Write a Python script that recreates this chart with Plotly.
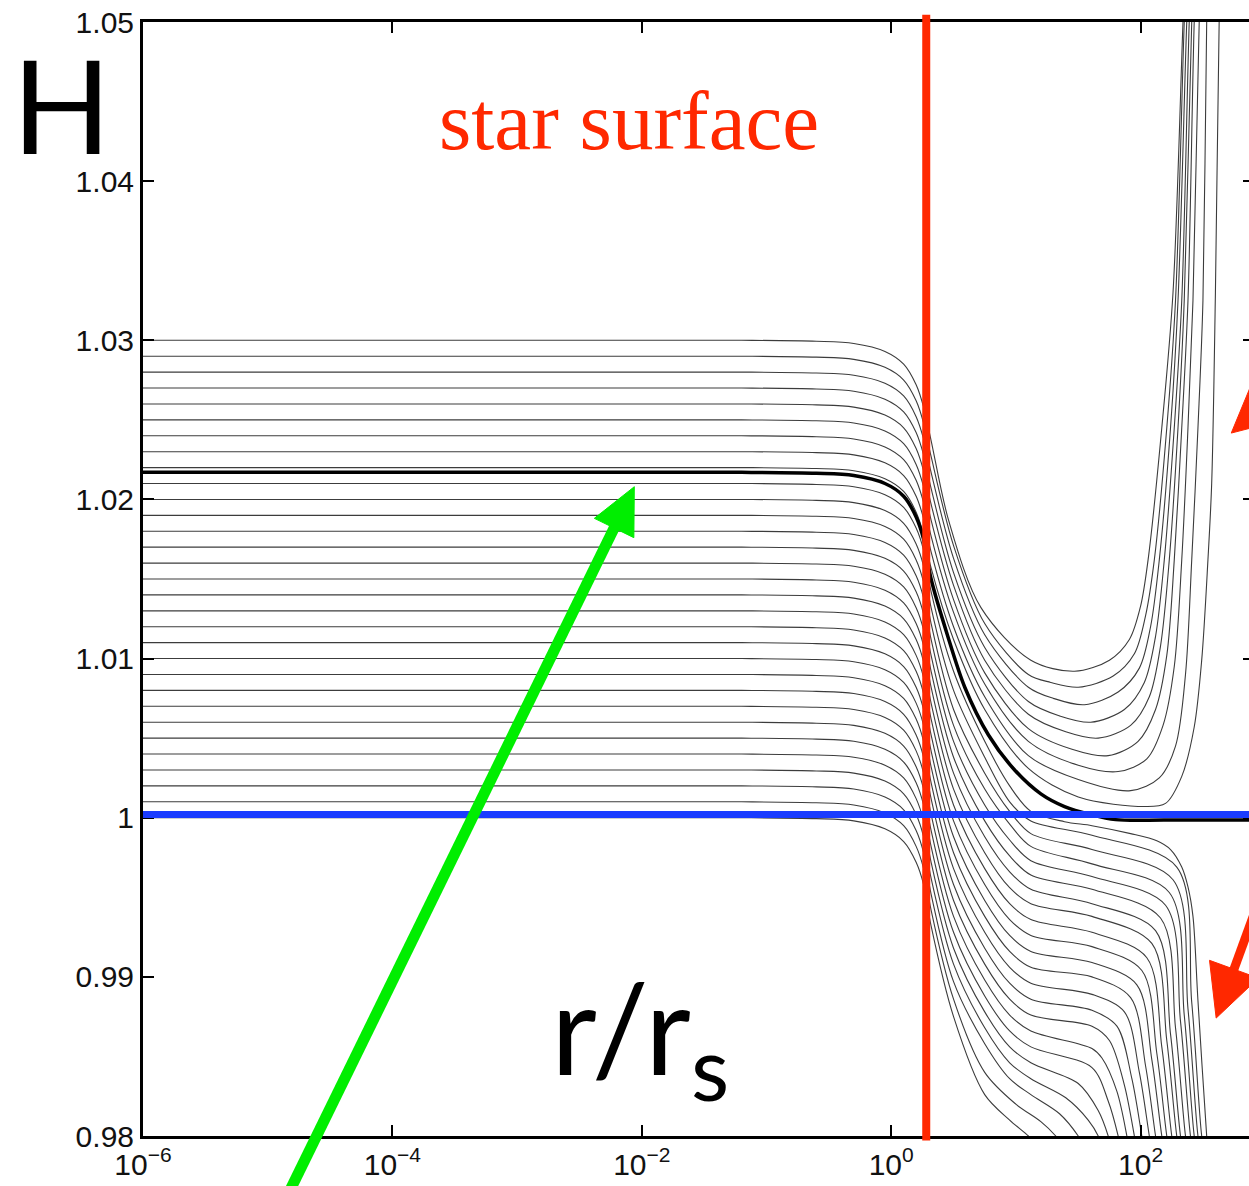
import math
import plotly.graph_objects as go

# ---------------------------------------------------------------------------
# H(r) profiles, x = log10(r / r_s)
# ---------------------------------------------------------------------------

# Central values H(0) of the thin curves
LOWER_H0 = [1.000, 1.001, 1.002, 1.003, 1.004, 1.005, 1.006, 1.007, 1.008, 1.009, 1.010,
            1.011, 1.012, 1.013, 1.014, 1.015, 1.016, 1.017, 1.018, 1.019, 1.020, 1.021]
UPPER_H0 = [1.022, 1.023, 1.024, 1.025, 1.026, 1.027, 1.028, 1.029, 1.030]
CRITICAL_H0 = 1.0217

# Interior: the curves stay flat, then fall off just before the surface
INTERIOR_LOGR = [-6.0, -1.2, -0.6, -0.3, -0.05, 0.10, 0.20, 0.26]
INTERIOR_DROP = [0.0, 0.0, 0.00006, 0.0002, 0.0007, 0.0015, 0.0028, 0.0042]

# Exterior of the curves that dive below H = 1
LOWER_OUT_LOGR = [
    [0.32, 0.5, 0.75, 0.95, 1.10, 1.16],
    [0.32, 0.5, 0.75, 1.0, 1.2, 1.32, 1.38],
    [0.32, 0.5, 0.75, 0.95, 1.12, 1.35, 1.50, 1.55],
    [0.32, 0.5, 0.75, 0.95, 1.12, 1.40, 1.58, 1.66, 1.70],
    [0.32, 0.5, 0.75, 0.95, 1.12, 1.50, 1.66, 1.74, 1.77],
    [0.32, 0.5, 0.75, 0.95, 1.12, 1.61, 1.74, 1.82, 1.85],
    [0.32, 0.5, 0.75, 0.95, 1.12, 1.61, 1.69, 1.81, 1.89, 1.92],
    [0.32, 0.5, 0.75, 0.95, 1.12, 1.61, 1.75, 1.87, 1.95, 1.98],
    [0.32, 0.5, 0.75, 0.95, 1.12, 1.61, 1.81, 1.93, 2.01, 2.04],
    [0.32, 0.5, 0.75, 0.95, 1.12, 1.61, 1.87, 1.99, 2.07, 2.10],
    [0.32, 0.5, 0.75, 0.95, 1.12, 1.61, 1.92, 2.04, 2.12, 2.15],
    [0.32, 0.5, 0.75, 0.95, 1.12, 1.61, 1.97, 2.09, 2.17, 2.20],
    [0.32, 0.5, 0.75, 0.95, 1.12, 1.61, 2.01, 2.13, 2.21, 2.24],
    [0.32, 0.5, 0.75, 0.95, 1.12, 1.61, 2.05, 2.17, 2.25, 2.28],
    [0.32, 0.5, 0.75, 0.95, 1.12, 1.61, 2.09, 2.21, 2.29, 2.32],
    [0.32, 0.5, 0.75, 0.95, 1.12, 1.61, 2.12, 2.24, 2.32, 2.35],
    [0.32, 0.5, 0.75, 0.95, 1.12, 1.61, 2.16, 2.28, 2.36, 2.39],
    [0.32, 0.5, 0.75, 0.95, 1.12, 1.61, 2.20, 2.32, 2.40, 2.43],
    [0.32, 0.5, 0.75, 0.95, 1.12, 1.61, 2.23, 2.35, 2.43, 2.46],
    [0.32, 0.5, 0.75, 0.95, 1.12, 1.61, 2.26, 2.38, 2.46, 2.49],
    [0.32, 0.5, 0.75, 0.95, 1.12, 1.61, 2.29, 2.41, 2.49, 2.52],
    [0.32, 0.5, 0.75, 0.95, 1.12, 1.39, 1.61, 1.92, 2.13, 2.24, 2.33, 2.38, 2.42, 2.46, 2.53,
     2.56],
]
LOWER_OUT_H = [
    [0.9932, 0.9875, 0.9826, 0.9810, 0.9800, 0.9795],
    [0.9942, 0.9886, 0.9840, 0.9820, 0.9809, 0.9800, 0.9794],
    [0.9952, 0.9897, 0.9858, 0.9836, 0.9826, 0.9814, 0.9800, 0.9793],
    [0.9962, 0.9908, 0.9868, 0.9846, 0.9836, 0.9824, 0.9810, 0.9800, 0.9790],
    [0.9972, 0.9918, 0.9878, 0.9856, 0.9846, 0.9833, 0.9816, 0.9800, 0.9790],
    [0.9982, 0.9928, 0.9888, 0.9866, 0.9856, 0.9843, 0.9822, 0.9800, 0.9788],
    [0.9992, 0.9938, 0.9898, 0.9876, 0.9866, 0.9855, 0.9849, 0.9828, 0.9800, 0.9786],
    [1.0002, 0.9948, 0.9908, 0.9886, 0.9876, 0.9869, 0.9860, 0.9832, 0.9800, 0.9786],
    [1.0012, 0.9958, 0.9918, 0.9896, 0.9886, 0.9879, 0.9869, 0.9836, 0.9800, 0.9786],
    [1.0022, 0.9968, 0.9928, 0.9906, 0.9896, 0.9889, 0.9878, 0.9840, 0.9800, 0.9786],
    [1.0032, 0.9978, 0.9938, 0.9916, 0.9906, 0.9900, 0.9887, 0.9844, 0.9800, 0.9786],
    [1.0042, 0.9988, 0.9948, 0.9926, 0.9916, 0.9909, 0.9895, 0.9848, 0.9800, 0.9786],
    [1.0052, 0.9998, 0.9958, 0.9936, 0.9926, 0.9919, 0.9904, 0.9852, 0.9800, 0.9786],
    [1.0062, 1.0008, 0.9968, 0.9946, 0.9936, 0.9928, 0.9912, 0.9856, 0.9800, 0.9786],
    [1.0072, 1.0018, 0.9978, 0.9956, 0.9946, 0.9938, 0.9921, 0.9860, 0.9800, 0.9786],
    [1.0082, 1.0028, 0.9988, 0.9966, 0.9955, 0.9946, 0.9929, 0.9864, 0.9800, 0.9786],
    [1.0092, 1.0038, 0.9998, 0.9976, 0.9964, 0.9955, 0.9937, 0.9868, 0.9800, 0.9786],
    [1.0102, 1.0048, 1.0008, 0.9986, 0.9973, 0.9963, 0.9945, 0.9872, 0.9800, 0.9786],
    [1.0112, 1.0058, 1.0018, 0.9996, 0.9982, 0.9971, 0.9953, 0.9876, 0.9800, 0.9786],
    [1.0122, 1.0068, 1.0028, 1.0004, 0.9990, 0.9980, 0.9961, 0.9880, 0.9800, 0.9786],
    [1.0132, 1.0080, 1.0038, 1.0010, 0.9998, 0.9989, 0.9969, 0.9884, 0.9800, 0.9786],
    [1.0142, 1.0092, 1.0048, 1.0020, 1.0004, 0.99975, 0.9995, 0.9990, 0.99855, 0.9980, 0.9969,
     0.99565, 0.9938, 0.9885, 0.9800, 0.9770],
]

# Exterior of the curves that turn back up (U shapes)
UPPER_OUT_LOGR = [
    [0.32, 0.5, 0.75, 1.1, 1.5, 2.04, 2.20, 2.33, 2.43, 2.49, 2.54, 2.57, 2.60, 2.63, 2.65],
    [0.32, 0.5, 0.75, 1.1, 1.5, 1.92, 2.15, 2.28, 2.36, 2.41, 2.46, 2.50, 2.53, 2.55],
    [0.32, 0.5, 0.75, 1.1, 1.5, 1.82, 2.05, 2.18, 2.27, 2.33, 2.38, 2.42, 2.47, 2.50],
    [0.32, 0.5, 0.75, 1.1, 1.45, 1.74, 1.98, 2.12, 2.21, 2.27, 2.33, 2.38, 2.43, 2.46],
    [0.32, 0.5, 0.75, 1.1, 1.40, 1.66, 1.92, 2.07, 2.16, 2.23, 2.30, 2.35, 2.41, 2.44],
    [0.32, 0.5, 0.75, 1.1, 1.35, 1.60, 1.87, 2.03, 2.12, 2.19, 2.27, 2.33, 2.39, 2.42],
    [0.32, 0.5, 0.75, 1.1, 1.30, 1.55, 1.82, 1.99, 2.08, 2.15, 2.24, 2.30, 2.37, 2.40],
    [0.32, 0.5, 0.75, 1.1, 1.28, 1.50, 1.78, 1.95, 2.04, 2.11, 2.21, 2.28, 2.35, 2.38],
    [0.32, 0.46, 0.72, 1.12, 1.47, 1.75, 1.91, 2.00, 2.06, 2.17, 2.26, 2.34, 2.37],
]
UPPER_OUT_H = [
    [1.0157, 1.0112, 1.0068, 1.0031, 1.0013, 1.0007, 1.0009, 1.0026, 1.0057, 1.0099, 1.0162,
     1.0210, 1.0330, 1.0500, 1.0560],
    [1.0167, 1.0120, 1.0076, 1.0039, 1.0024, 1.0017, 1.0025, 1.0045, 1.0090, 1.0162, 1.0245,
     1.0325, 1.0500, 1.0560],
    [1.0177, 1.0129, 1.0084, 1.0048, 1.0033, 1.0029, 1.0037, 1.0058, 1.0095, 1.0162, 1.0245,
     1.0325, 1.0500, 1.0560],
    [1.0187, 1.0137, 1.0091, 1.0056, 1.0043, 1.0039, 1.0048, 1.0068, 1.0102, 1.0162, 1.0245,
     1.0325, 1.0500, 1.0560],
    [1.0197, 1.0146, 1.0099, 1.0065, 1.0054, 1.0050, 1.0058, 1.0076, 1.0108, 1.0162, 1.0245,
     1.0325, 1.0500, 1.0560],
    [1.0207, 1.0154, 1.0107, 1.0073, 1.0064, 1.0060, 1.0068, 1.0085, 1.0114, 1.0162, 1.0245,
     1.0325, 1.0500, 1.0560],
    [1.0217, 1.0163, 1.0115, 1.0082, 1.0075, 1.0071, 1.0079, 1.0094, 1.0120, 1.0162, 1.0245,
     1.0325, 1.0500, 1.0560],
    [1.0227, 1.0171, 1.0122, 1.0090, 1.0085, 1.0082, 1.0089, 1.0103, 1.0127, 1.0162, 1.0245,
     1.0325, 1.0500, 1.0560],
    [1.0237, 1.0187, 1.0132, 1.0099, 1.0092, 1.0099, 1.0112, 1.0133, 1.0162, 1.0245, 1.0330,
     1.0500, 1.0560],
]

# Critical (thick) solution that settles onto H = 1
CRITICAL_OUT_LOGR = [0.32, 0.45, 0.59, 0.78, 0.99, 1.2, 1.39, 1.6, 1.8, 2.2, 2.87]
CRITICAL_OUT_H = [1.0150, 1.0115, 1.0082, 1.0052, 1.0030, 1.0015, 1.0007, 1.0002, 0.99988,
                  0.99985, 0.99985]

# Markers on the plot
SURFACE_LOGR = 0.281
UNIT_H = 1.0002
GREEN_TIP = (-2.06, 1.0208)
RED_TIP_UP = (2.727, 1.02417)
RED_TIP_DOWN = (2.606, 0.98741)

X_TICKS = [1e-6, 1e-4, 1e-2, 1e0, 1e2]
X_TICK_TEXT = ["10<sup>\u22126</sup>", "10<sup>\u22124</sup>", "10<sup>\u22122</sup>",
               "10<sup>0</sup>", "10<sup>2</sup>"]
Y_TICKS = [0.98, 0.99, 1.00, 1.01, 1.02, 1.03, 1.04, 1.05]
Y_TICK_TEXT = ["0.98", "0.99", "1", "1.01", "1.02", "1.03", "1.04", "1.05"]

RED = "#ff2800"
BLUE = "#1a3cff"
GREEN = "#00ee00"

W, H_PX = 1249, 1186
M_L, M_R, M_T, M_B = 143, 0, 22, 50
PLOT_W = W - M_L - M_R
PLOT_H = H_PX - M_T - M_B
X_RANGE = [-6.0, 2.8693]
Y_RANGE = [0.98, 1.05]


def profile(h0, out_logr, out_h):
    logr = INTERIOR_LOGR + out_logr
    hv = [h0 - d for d in INTERIOR_DROP] + out_h
    return [10 ** u for u in logr], hv


def data_to_px(u, h):
    px = M_L + (u - X_RANGE[0]) / (X_RANGE[1] - X_RANGE[0]) * PLOT_W
    py = M_T + (Y_RANGE[1] - h) / (Y_RANGE[1] - Y_RANGE[0]) * PLOT_H
    return px, py


def px_to_paper(px, py):
    return (px - M_L) / PLOT_W, (H_PX - M_B - py) / PLOT_H


def arrow_shapes(tip, back, shaft_len, head_len, head_half, width, color):
    """Filled triangular head at `tip` plus a straight shaft running along `back`."""
    tx, ty = data_to_px(*tip)
    n = math.hypot(*back)
    dx, dy = back[0] / n, back[1] / n
    bx, by = tx + dx * head_len, ty + dy * head_len
    nx, ny = -dy, dx
    corners = [(tx, ty), (bx + nx * head_half, by + ny * head_half),
               (bx - nx * head_half, by - ny * head_half)]
    pc = [px_to_paper(cx, cy) for cx, cy in corners]
    path = "M {:.5f} {:.5f} L {:.5f} {:.5f} L {:.5f} {:.5f} Z".format(
        pc[0][0], pc[0][1], pc[1][0], pc[1][1], pc[2][0], pc[2][1])
    s0 = px_to_paper(bx - dx * 3, by - dy * 3)
    s1 = px_to_paper(tx + dx * shaft_len, ty + dy * shaft_len)
    return [
        dict(type="line", xref="paper", yref="paper", x0=s0[0], y0=s0[1], x1=s1[0], y1=s1[1],
             line=dict(color=color, width=width), layer="above"),
        dict(type="path", xref="paper", yref="paper", path=path, fillcolor=color,
             line=dict(color=color, width=1), layer="above"),
    ]


fig = go.Figure()

thin = dict(color="#3c3c3c", width=1.1, shape="spline", smoothing=0.9)

for h0, lr, hv in zip(LOWER_H0, LOWER_OUT_LOGR, LOWER_OUT_H):
    x, y = profile(h0, lr, hv)
    fig.add_trace(go.Scatter(x=x, y=y, mode="lines", line=thin, hoverinfo="skip",
                             showlegend=False))

for h0, lr, hv in zip(UPPER_H0, UPPER_OUT_LOGR, UPPER_OUT_H):
    x, y = profile(h0, lr, hv)
    fig.add_trace(go.Scatter(x=x, y=y, mode="lines", line=thin, hoverinfo="skip",
                             showlegend=False))

x, y = profile(CRITICAL_H0, CRITICAL_OUT_LOGR, CRITICAL_OUT_H)
fig.add_trace(go.Scatter(x=x, y=y, mode="lines",
                         line=dict(color="#000000", width=3.5, shape="spline", smoothing=0.9),
                         hoverinfo="skip", showlegend=False))

# invisible trace carrying the right-hand tick marks
fig.add_trace(go.Scatter(x=[1e-6], y=[1.0], yaxis="y2", mode="markers",
                         marker=dict(opacity=0), hoverinfo="skip", showlegend=False))

shapes = [
    # star surface
    dict(type="line", xref="x", yref="paper",
         x0=10 ** SURFACE_LOGR, x1=10 ** SURFACE_LOGR, y0=-0.004, y1=1.0065,
         line=dict(color=RED, width=8), layer="above"),
    # H = 1 level
    dict(type="line", xref="paper", yref="y", x0=0, x1=1, y0=UNIT_H, y1=UNIT_H,
         line=dict(color=BLUE, width=7), layer="above"),
]
shapes += arrow_shapes(GREEN_TIP, (-345, 705), 820, 46, 22, 11, GREEN)
shapes += arrow_shapes(RED_TIP_UP, (0.755, -0.656), 220, 52, 26, 9, RED)
shapes += arrow_shapes(RED_TIP_DOWN, (0.342, -0.940), 220, 52, 26, 9, RED)

annotations = []
hx, hy = px_to_paper(61, 104)
annotations.append(dict(x=hx, y=hy, xref="paper", yref="paper", text="H", showarrow=False,
                        xanchor="center", yanchor="middle",
                        font=dict(family="Lato", size=130, color="#000000")))
sx, sy = px_to_paper(629, 121)
annotations.append(dict(x=sx, y=sy, xref="paper", yref="paper", text="star surface",
                        showarrow=False, xanchor="center", yanchor="middle",
                        font=dict(family="Liberation Serif", size=83, color=RED)))
rx, ry = px_to_paper(640, 1035)
annotations.append(dict(x=rx, y=ry, xref="paper", yref="paper", text="r/r<sub>s</sub>",
                        showarrow=False, xanchor="center", yanchor="middle",
                        font=dict(family="Lato", size=126, color="#000000")))

tick_font = dict(family="Liberation Sans", size=30, color="#111111")

fig.update_layout(
    width=W, height=H_PX, autosize=False,
    margin=dict(l=M_L, r=M_R, t=M_T, b=M_B, pad=0),
    paper_bgcolor="white", plot_bgcolor="white",
    showlegend=False,
    shapes=shapes,
    annotations=annotations,
    xaxis=dict(type="log", range=X_RANGE, tickvals=X_TICKS, ticktext=X_TICK_TEXT,
               ticks="inside", ticklen=11, tickwidth=2, tickcolor="#000000",
               showline=True, linewidth=3, linecolor="#000000", mirror="ticks",
               showgrid=False, zeroline=False, tickfont=tick_font),
    yaxis=dict(range=Y_RANGE, tickvals=Y_TICKS, ticktext=Y_TICK_TEXT,
               ticks="inside", ticklen=11, tickwidth=2, tickcolor="#000000",
               showline=True, linewidth=3, linecolor="#000000", mirror=False,
               showgrid=False, zeroline=False, tickfont=tick_font),
    yaxis2=dict(range=Y_RANGE, tickvals=Y_TICKS, overlaying="y", side="right",
                ticks="inside", ticklen=6, tickwidth=2, tickcolor="#000000",
                showticklabels=False, showline=False, showgrid=False, zeroline=False),
)

fig.write_html("out.html")
